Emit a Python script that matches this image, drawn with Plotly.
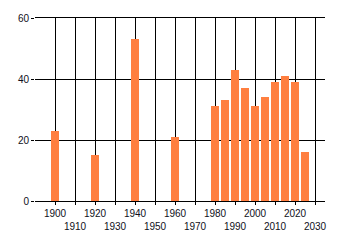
import plotly.graph_objects as go

years = [1900, 1920, 1940, 1960, 1980, 1985, 1990, 1995, 2000, 2005, 2010, 2015, 2020, 2025]
values = [23, 15, 53, 21, 31, 33, 43, 37, 31, 34, 39, 41, 39, 16]
even_ticks = [1900, 1920, 1940, 1960, 1980, 2000, 2020]
odd_ticks = [1910, 1930, 1950, 1970, 1990, 2010, 2030]
all_ticks = sorted(even_ticks + odd_ticks)

fnt = dict(family="Liberation Sans, Arial, sans-serif", size=10, color="#101020")

fig = go.Figure()
fig.add_trace(go.Bar(x=years, y=values, width=4, marker=dict(color="#FF7F40", line=dict(width=0)),
                     xaxis="x", yaxis="y"))
fig.add_trace(go.Scatter(x=[1900], y=[0], mode="markers", marker=dict(opacity=0), xaxis="x2", yaxis="y",
                         hoverinfo="skip", showlegend=False))

fig.update_layout(
    width=340, height=245,
    margin=dict(l=35, r=15, t=15, b=44),
    paper_bgcolor="white", plot_bgcolor="white",
    showlegend=False,
    font=fnt,
    xaxis=dict(range=[1890, 2035], tickvals=all_ticks,
               ticktext=[str(t) if t in even_ticks else "" for t in all_ticks],
               showgrid=True, gridcolor="black", gridwidth=1,
               ticks="outside", ticklen=3, tickcolor="black", tickwidth=1,
               showline=True, mirror=True, linecolor="black", linewidth=1,
               zeroline=False, tickfont=fnt, fixedrange=True),
    xaxis2=dict(range=[1890, 2035], overlaying="x", anchor="y", side="bottom",
                tickvals=odd_ticks, ticktext=[str(t) for t in odd_ticks],
                showgrid=False, ticks="", showline=False, zeroline=False,
                ticklabelstandoff=18, tickfont=fnt),
    yaxis=dict(range=[0, 60], tickvals=[0, 20, 40, 60],
               showgrid=True, gridcolor="black", gridwidth=1,
               ticks="outside", ticklen=3, tickcolor="black",
               zeroline=False, showline=False, tickfont=fnt),
    bargap=0,
)

fig.write_html("out.html")
